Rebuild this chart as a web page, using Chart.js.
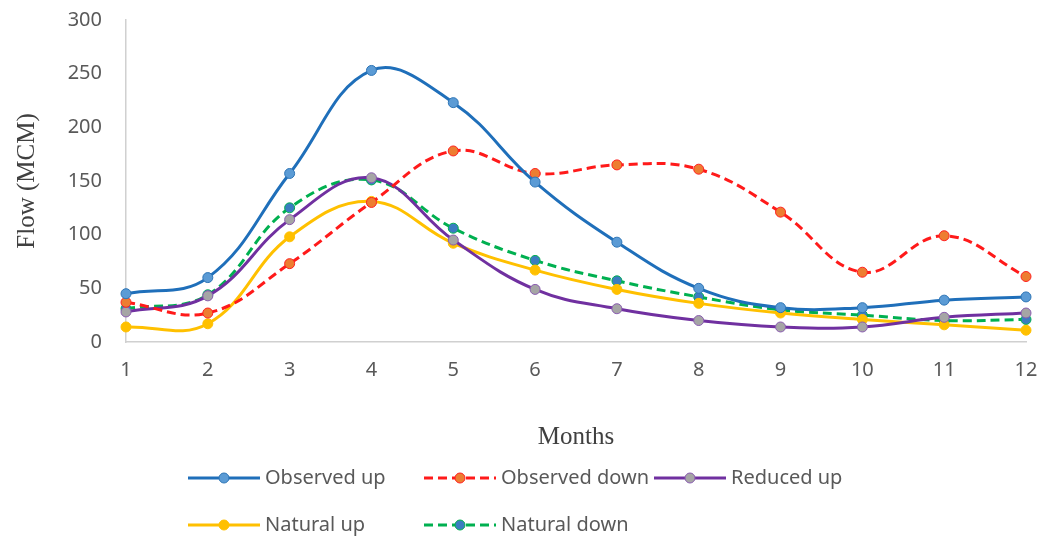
<!DOCTYPE html>
<html>
<head>
<meta charset="utf-8">
<script src="https://cdn.jsdelivr.net/npm/chart.js@4/dist/chart.umd.min.js"></script>
<style>
  html, body { margin: 0; padding: 0; background: #ffffff; }
  #wrap { width: 1038px; height: 538px; position: relative; }
</style>
</head>
<body>
<div id="wrap"><canvas id="flow"></canvas></div>
<script>
// Monthly flow (MCM) at the upstream and downstream stations
const months = ['1', '2', '3', '4', '5', '6', '7', '8', '9', '10', '11', '12'];
const observedUp   = [45, 60, 157, 253, 223, 149, 93, 50, 32, 32, 39, 42];
const observedDown = [37, 27, 73, 130, 178, 157, 165, 161, 121, 65, 99, 61];
const reducedUp    = [28, 43, 114, 153, 95, 49, 31, 20, 14, 14, 23, 27];
const naturalUp    = [14, 17, 98, 131, 92, 67, 49, 36, 27, 21, 16, 11];
const naturalDown  = [31, 44, 125, 151, 106, 76, 57, 42, 30, 25, 20, 21];
const seriesNames  = ['Observed up', 'Observed down', 'Reduced up', 'Natural up', 'Natural down'];

const SANS = '"Noto Sans", "DejaVu Sans", sans-serif';
const SERIF = '"Liberation Serif", "DejaVu Serif", serif';
const TEXT = '#595959';

function series(label, data, line, fill, edge, dashed) {
  return {
    label, data,
    borderColor: line,
    backgroundColor: line,
    borderWidth: 3,
    borderDash: dashed ? [9, 5] : [],
    tension: 0.4,
    pointRadius: 5,
    pointHoverRadius: 5,
    pointBackgroundColor: fill,
    pointBorderColor: edge,
    pointBorderWidth: 1,
    clip: false,
    fill: false
  };
}

const datasets = [
  series(seriesNames[0], observedUp,   '#1f6fba', '#5b9bd5', '#2e75b6', false),
  series(seriesNames[1], observedDown, '#ff1a1a', '#ed7d31', '#ff2020', true),
  series(seriesNames[2], reducedUp,    '#7030a0', '#a5a5a5', '#8a5cb0', false),
  series(seriesNames[3], naturalUp,    '#ffc000', '#ffc000', '#ffc000', false),
  series(seriesNames[4], naturalDown,  '#00b050', '#3a7dc0', '#00b050', true)
];

// Legend laid out in a fixed grid of three columns under the axis title
const gridLegend = {
  id: 'gridLegend',
  afterDraw(chart) {
    const ctx = chart.ctx;
    const cols = [188, 424, 654];
    const rows = [478, 525];
    const sampleW = 72;
    ctx.save();
    chart.data.datasets.forEach((ds, i) => {
      const x = cols[i % 3];
      const y = rows[Math.floor(i / 3)];
      ctx.strokeStyle = ds.borderColor;
      ctx.lineWidth = 3;
      ctx.setLineDash(ds.borderDash || []);
      ctx.beginPath();
      ctx.moveTo(x, y);
      ctx.lineTo(x + sampleW, y);
      ctx.stroke();
      ctx.setLineDash([]);
      ctx.beginPath();
      ctx.arc(x + sampleW / 2, y, 5, 0, Math.PI * 2);
      ctx.fillStyle = ds.pointBackgroundColor;
      ctx.fill();
      ctx.lineWidth = 1;
      ctx.strokeStyle = ds.pointBorderColor;
      ctx.stroke();
      ctx.fillStyle = TEXT;
      ctx.font = '20px ' + SANS;
      ctx.textAlign = 'left';
      ctx.textBaseline = 'middle';
      ctx.fillText(ds.label, x + sampleW + 5, y);
    });
    ctx.restore();
  }
};

new Chart(document.getElementById('flow'), {
  type: 'line',
  data: { labels: months, datasets },
  plugins: [gridLegend],
  options: {
    responsive: true,
    maintainAspectRatio: false,
    animation: false,
    layout: { padding: { left: 0, right: 12, top: 20, bottom: 82 } },
    plugins: {
      legend: { display: false },
      tooltip: { enabled: false }
    },
    scales: {
      x: {
        offset: false,
        grid: { display: false, drawTicks: false },
        border: { display: true, color: '#d0d0d0', width: 1.5 },
        ticks: { color: TEXT, font: { family: SANS, size: 20 }, padding: 16, maxRotation: 0 },
        title: {
          display: true, text: 'Months', color: '#404040',
          font: { family: SERIF, size: 25 }, padding: { top: 4, bottom: 4 }
        },
        afterFit(scale) {
          scale.height = 114;
          scale.paddingLeft = 0;
          scale.paddingRight = 0;
        }
      },
      y: {
        min: 0, max: 300,
        grid: { display: false, drawTicks: false },
        border: { display: true, color: '#d0d0d0', width: 1.5 },
        ticks: { stepSize: 50, color: TEXT, font: { family: SANS, size: 20 }, padding: 24 },
        title: {
          display: true, text: 'Flow (MCM)', color: '#404040',
          font: { family: SERIF, size: 25 }, padding: { top: 12, bottom: 0 }
        },
        afterFit(scale) {
          scale.width = 126;
          scale.paddingTop = 0;
          scale.paddingBottom = 0;
        }
      }
    }
  }
});
</script>
</body>
</html>
